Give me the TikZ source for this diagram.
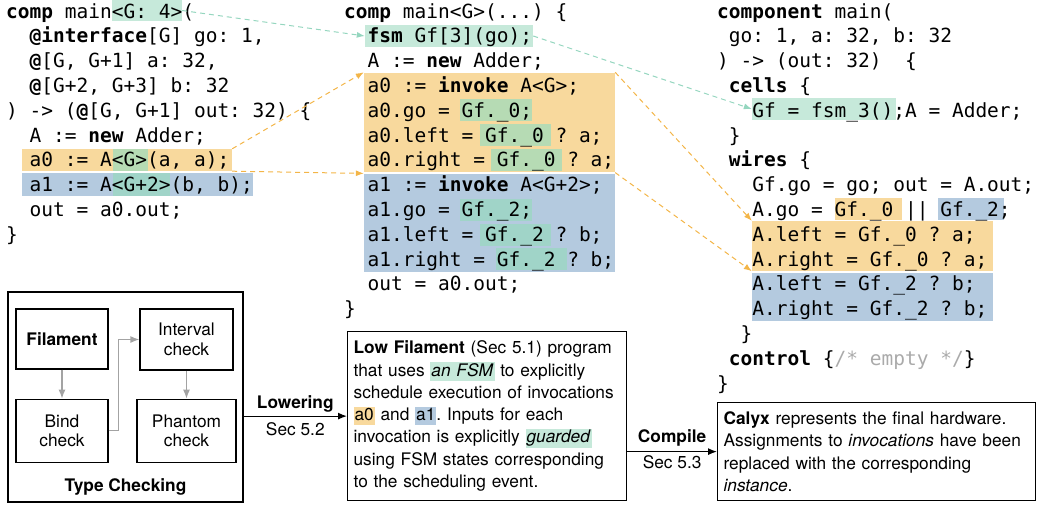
\documentclass[tikz,border=0pt]{standalone}
\usepackage{fontspec}
\setmainfont{TeX Gyre Heros}
\newfontfamily\codefont{DejaVu Sans Mono}
\usetikzlibrary{arrows.meta,fit,positioning}
\definecolor{hlgreen}{HTML}{C6E9DA}
\definecolor{hlorange}{HTML}{F8D99D}
\definecolor{hlblue}{HTML}{B4CADF}
\definecolor{hlgreenor}{HTML}{B6DBB4}
\definecolor{hlgreenbl}{HTML}{A0D4C8}
\definecolor{dashgreen}{HTML}{95D6BF}
\definecolor{dashorange}{HTML}{F3B548}
\definecolor{cmtgray}{HTML}{AAAAAA}
\definecolor{arrgray}{HTML}{A3A3A3}
\frenchspacing
\newcommand{\hlbox}[6]{\node[fit={(#3,#4) (#5,#6)},inner sep=0pt,fill=#2] (#1) {};}
\newcommand{\codeln}[4]{\node[code] (#1) at ({\xo+#2*11.75},{18+24.8*#3}) {#4};}
\newcommand{\hlt}[2]{{\setlength{\fboxsep}{1pt}\colorbox{#1}{\vphantom{Ag}#2}}}
\begin{document}
\begin{tikzpicture}[x=1pt,y=-1pt,>={Latex[length=9pt,width=7pt]},line join=miter]
	\tikzset{code/.style={font=\codefont\fontsize{19.5}{24}\selectfont,inner sep=0pt,anchor=base west},
		stage/.style={draw,line width=1.2pt,align=center,inner sep=2pt,font=\fontsize{17.3}{19.5}\selectfont},
		txtbox/.style={draw,line width=1.2pt,align=left,inner xsep=6pt,inner ysep=0pt,font=\fontsize{17.3}{22.3}\selectfont},
		lbl/.style={font=\fontsize{17.3}{20}\selectfont},
		grnlink/.style={draw=dashgreen,dash pattern=on 5pt off 4pt,line width=1pt,-{Latex[length=8pt,width=6pt]}},
		orglink/.style={draw=dashorange,dash pattern=on 5pt off 4pt,line width=1pt,-{Latex[length=8pt,width=6pt]}},
		gflow/.style={draw=arrgray,line width=1.2pt,->},
		flow/.style={line width=1.2pt,->}}
	\useasboundingbox (0,0) rectangle (1048,506);
	% highlights
	\hlbox{hG4}{hlgreen}{112}{0}{182}{21}
	\hlbox{hA0}{hlorange}{22}{149}{232}{171}
	\hlbox{hA0g}{hlgreenor}{113}{149}{148}{171}
	\hlbox{hA1}{hlblue}{22}{173}{253}{196}
	\hlbox{hA1g}{hlgreenbl}{113}{173}{170}{196}
	\hlbox{hFsm}{hlgreen}{365}{25}{533}{47}
	\hlbox{oMid}{hlorange}{364}{72.5}{615}{172.4}
	\hlbox{bMid}{hlblue}{364}{173.6}{615}{272}
	\hlbox{g0go}{hlgreenor}{460}{99}{532}{121}
	\hlbox{g0l}{hlgreenor}{480}{124}{551}{146}
	\hlbox{g0r}{hlgreenor}{491}{149}{562}{171}
	\hlbox{g2go}{hlgreenbl}{460}{199}{532}{221}
	\hlbox{g2l}{hlgreenbl}{480}{224}{551}{246}
	\hlbox{g2r}{hlgreenbl}{496}{248}{567}{270}
	\hlbox{hCells}{hlgreen}{752}{98}{896}{120}
	\hlbox{goA}{hlorange}{835}{198}{902}{220}
	\hlbox{goB}{hlblue}{938}{198}{1004}{220}
	\hlbox{oRight}{hlorange}{752}{221}{993}{271}
	\hlbox{bRight}{hlblue}{752}{272.5}{993}{321}
	% filament
	\def\xo{6}
	\codeln{l0}{0}{0}{\textbf{comp} main<G: 4>(}
	\codeln{l1}{2}{1}{\textbf{@interface}[G] go: 1,}
	\codeln{l2}{2}{2}{\textbf{@}[G, G+1] a: 32,}
	\codeln{l3}{2}{3}{\textbf{@}[G+2, G+3] b: 32}
	\codeln{l4}{0}{4}{) -> (\textbf{@}[G, G+1] out: 32) \{}
	\codeln{l5}{2}{5}{A := \textbf{new} Adder;}
	\codeln{l6}{2}{6}{a0 := A<G>(a, a);}
	\codeln{l7}{2}{7}{a1 := A<G+2>(b, b);}
	\codeln{l8}{2}{8}{out = a0.out;}
	\codeln{l9}{0}{9}{\}}
	% low filament
	\def\xo{344}
	\codeln{m0}{0}{0}{\textbf{comp} main<G>(...) \{}
	\codeln{m1}{2}{1}{\textbf{fsm} Gf[3](go);}
	\codeln{m2}{2}{2}{A := \textbf{new} Adder;}
	\codeln{m3}{2}{3}{a0 := \textbf{invoke} A<G>;}
	\codeln{m4}{2}{4}{a0.go = Gf.\_0;}
	\codeln{m5}{2}{5}{a0.left = Gf.\_0 ? a;}
	\codeln{m6}{2}{6}{a0.right = Gf.\_0 ? a;}
	\codeln{m7}{2}{7}{a1 := \textbf{invoke} A<G+2>;}
	\codeln{m8}{2}{8}{a1.go = Gf.\_2;}
	\codeln{m9}{2}{9}{a1.left = Gf.\_2 ? b;}
	\codeln{m10}{2}{10}{a1.right = Gf.\_2 ? b;}
	\codeln{m11}{2}{11}{out = a0.out;}
	\codeln{m12}{0}{12}{\}}
	% calyx
	\def\xo{717}
	\codeln{r0}{0}{0}{\textbf{component} main(}
	\codeln{r1}{1}{1}{go: 1, a: 32, b: 32}
	\codeln{r2}{0}{2}{) -> (out: 32)~~\{}
	\codeln{r3}{1}{3}{\textbf{cells} \{}
	\codeln{r4}{3}{4}{Gf = fsm\_3();A = Adder;}
	\codeln{r5}{1}{5}{\}}
	\codeln{r6}{1}{6}{\textbf{wires} \{}
	\codeln{r7}{3}{7}{Gf.go = go; out = A.out;}
	\codeln{r8}{3}{8}{A.go = Gf.\_0 || Gf.\_2;}
	\codeln{r9}{3}{9}{A.left = Gf.\_0 ? a;}
	\codeln{r10}{3}{10}{A.right = Gf.\_0 ? a;}
	\codeln{r11}{3}{11}{A.left = Gf.\_2 ? b;}
	\codeln{r12}{3}{12}{A.right = Gf.\_2 ? b;}
	\codeln{r13}{2}{13}{\}}
	\codeln{r14}{1}{14}{\textbf{control} \{\textcolor{cmtgray}{/* empty */}\}}
	\codeln{r15}{0}{15}{\}}
	\draw[grnlink] (hG4.east) -- (hFsm.west);
	\draw[grnlink] (hFsm.east) -- (hCells.west);
	\draw[orglink] (hA0.north east) -- (oMid.north west);
	\draw[orglink] (hA0.south east) -- (bMid.north west);
	\draw[orglink] (oMid.north east) -- (oRight.north west);
	\draw[orglink] (oMid.south east) -- (oRight.south west);
	% pipeline
	\node[draw,line width=1.2pt,fit={(8,292) (243,502)},inner sep=0pt] (type) {};
	\node[stage,minimum width=92pt,minimum height=60pt] (filament) at (62,339) {\textbf{Filament}};
	\node[stage,minimum width=92pt,minimum height=63pt,below=29pt of filament] (bind) {Bind\\check};
	\node[stage,minimum width=93pt,minimum height=61pt] (interval) at (186.5,339.5) {Interval\\check};
	\node[stage,minimum width=99pt,minimum height=63pt,below=28pt of interval] (phantom) {Phantom\\check};
	\node[lbl,font=\bfseries\fontsize{17.3}{20}\selectfont] (typelbl) at (125.5,487) {Type Checking};
	\draw[gflow] (filament) -- (bind);
	\draw[gflow] (interval) -- (phantom);
	\draw[gflow] (bind.east) -- ++(10,0) |- (interval.west);
	\node[txtbox,text width=267pt,minimum height=169pt,anchor=north west] (low) at (347,331) {\textbf{Low Filament} (Sec 5.1) program\\that uses \hlt{hlgreen}{\textit{an FSM}} to explicitly\\schedule execution of invocations\\\hlt{hlorange}{a0} and \hlt{hlblue}{a1}. Inputs for each\\invocation is explicitly \hlt{hlgreen}{\textit{guarded}}\\using FSM states corresponding\\to the scheduling event.};
	\node[txtbox,text width=306pt,minimum height=98pt,anchor=north west] (calyx) at (717,402) {\textbf{Calyx} represents the final hardware.\\Assignments to \textit{invocations} have been\\replaced with the corresponding\\\textit{instance}.};
	\draw[flow] (type.east |- low.west) -- (low.west) node[lbl,midway,above,font=\bfseries\fontsize{17.3}{20}\selectfont]{Lowering} node[lbl,midway,below,yshift=-3pt]{Sec 5.2};
	\draw[flow] (low.east |- calyx.west) -- (calyx.west) node[lbl,midway,above,yshift=1pt,font=\bfseries\fontsize{17.3}{20}\selectfont]{Compile} node[lbl,midway,below]{Sec 5.3};
\end{tikzpicture}
\end{document}
